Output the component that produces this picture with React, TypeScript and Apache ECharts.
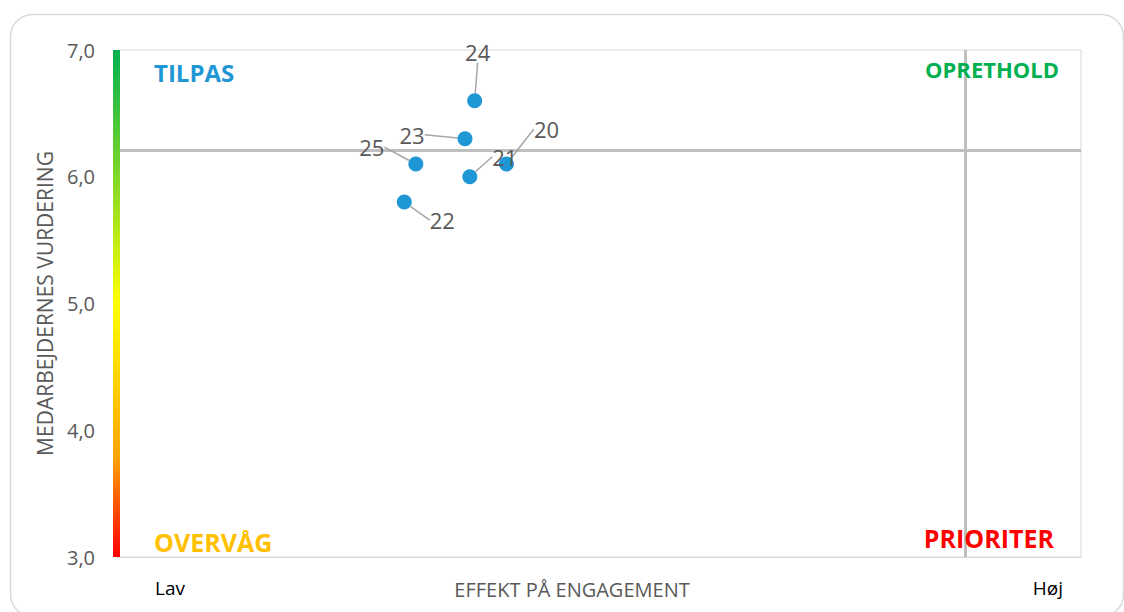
import React, { useEffect, useRef } from "react";
import * as echarts from "echarts";

// Items (question numbers), their effect on engagement (x) and employee rating (y)
const itemNames = ["20", "21", "22", "23", "24", "25"];
const effectValues = [0.404, 0.366, 0.298, 0.361, 0.371, 0.31];
const ratingValues = [6.1, 6.0, 5.8, 6.3, 6.6, 6.1];

// Dividing lines between the quadrants
const ratingDivider = 6.215;
const effectDivider = 0.877;

const yTicks = [3, 4, 5, 6, 7];

// Label offsets (px) from each point, keyed by item name
const labelOffsets: Record<string, [number, number]> = {
  "20": [40, -35],
  "21": [35, -20],
  "22": [38, 18],
  "23": [-53, -4],
  "24": [3, -49],
  "25": [-44, -17],
};

const FONT = "'Open Sans', 'Noto Sans', sans-serif";
const GREY_TEXT = "#595959";

export default function App() {
  const ref = useRef<HTMLDivElement>(null);

  useEffect(() => {
    if (!ref.current) return;
    const chart = echarts.init(ref.current, undefined, { renderer: "svg" });

    const points = itemNames.map((n, i) => ({
      name: n,
      value: [effectValues[i], ratingValues[i]],
    }));

    const gridLeft = 117;
    const gridTop = 50;
    const gridRight = 43;
    const gridBottom = 55;
    const plotH = 612 - gridTop - gridBottom;

    const quadrantLabel = (
      text: string,
      x: number,
      y: number,
      color: string,
      size: number,
      align: "left" | "right"
    ) => ({
      type: "text",
      x,
      y,
      z: 20,
      style: {
        text,
        fill: color,
        fontSize: size,
        fontWeight: "bold",
        fontFamily: FONT,
        textAlign: align,
        textVerticalAlign: "middle",
      },
    });

    chart.setOption({
      animation: false,
      textStyle: { fontFamily: FONT },
      grid: {
        left: gridLeft,
        top: gridTop,
        right: gridRight,
        bottom: gridBottom,
        show: true,
        borderColor: "#d9d9d9",
        borderWidth: 1,
        backgroundColor: "transparent",
      },
      xAxis: {
        type: "value",
        min: 0,
        max: 1,
        axisLine: { show: true, lineStyle: { color: "#d9d9d9" } },
        axisTick: { show: false },
        axisLabel: { show: false },
        splitLine: { show: false },
      },
      yAxis: {
        type: "value",
        min: yTicks[0],
        max: yTicks[yTicks.length - 1],
        interval: 1,
        axisLine: { show: false },
        axisTick: { show: false },
        splitLine: { show: false },
        axisLabel: {
          color: GREY_TEXT,
          fontSize: 20,
          margin: 22,
          fontFamily: FONT,
          formatter: (v: number) => v.toFixed(1).replace(".", ","),
        },
        name: "MEDARBEJDERNES VURDERING",
        nameLocation: "middle",
        nameGap: 62,
        nameTextStyle: { color: GREY_TEXT, fontSize: 21, fontFamily: FONT },
      },
      series: [
        {
          type: "scatter",
          data: points,
          symbolSize: 15,
          itemStyle: { color: "#1f97d4", opacity: 1 },
          label: {
            show: true,
            position: "inside",
            formatter: "{b}",
            color: GREY_TEXT,
            fontSize: 22,
            fontFamily: FONT,
          },
          labelLine: {
            show: true,
            lineStyle: { color: "#a6a6a6", width: 1.5 },
          },
          labelLayout: (params: any) => {
            const off = labelOffsets[itemNames[params.dataIndex]] || [0, 0];
            return { dx: off[0], dy: off[1] };
          },
          markLine: {
            silent: true,
            symbol: "none",
            label: { show: false },
            lineStyle: { color: "#bfbfbf", width: 3, type: "solid" },
            data: [{ yAxis: ratingDivider }, { xAxis: effectDivider }],
          },
          z: 5,
        },
      ],
      graphic: [
        {
          type: "rect",
          left: 8,
          top: 12,
          shape: { width: 1113, height: 602, r: 22 },
          style: { fill: "none", stroke: "#d9d9d9", lineWidth: 1.5 },
          z: -10,
          silent: true,
        },
        {
          type: "rect",
          x: gridLeft - 4,
          y: gridTop,
          shape: { width: 7, height: plotH },
          style: {
            fill: new echarts.graphic.LinearGradient(0, 0, 0, 1, [
              { offset: 0, color: "#00b050" },
              { offset: 0.5, color: "#ffff00" },
              { offset: 0.8, color: "#ffa500" },
              { offset: 1, color: "#ff0000" },
            ]),
          },
          z: 10,
          silent: true,
        },
        quadrantLabel("TILPAS", 154, 72, "#1f97d4", 24, "left"),
        quadrantLabel("OPRETHOLD", 1059, 69, "#00b050", 22, "right"),
        quadrantLabel("OVERVÅG", 154, 542, "#ffc000", 25, "left"),
        quadrantLabel("PRIORITER", 1054, 538, "#ff0000", 25, "right"),
        {
          type: "text",
          x: 155,
          y: 588,
          style: {
            text: "Lav",
            fill: "#000000",
            fontSize: 19,
            fontFamily: FONT,
            textVerticalAlign: "middle",
          },
        },
        {
          type: "text",
          x: 1063,
          y: 588,
          style: {
            text: "Høj",
            fill: "#000000",
            fontSize: 19,
            fontFamily: FONT,
            textAlign: "right",
            textVerticalAlign: "middle",
          },
        },
        {
          type: "text",
          x: 572,
          y: 589,
          style: {
            text: "EFFEKT PÅ ENGAGEMENT",
            fill: GREY_TEXT,
            fontSize: 20,
            fontFamily: FONT,
            textAlign: "center",
            textVerticalAlign: "middle",
          },
        },
      ],
    });

    return () => chart.dispose();
  }, []);

  return (
    <div
      ref={ref}
      style={{ position: "fixed", left: 0, top: 0, width: 1124, height: 612, background: "#fff" }}
    />
  );
}
